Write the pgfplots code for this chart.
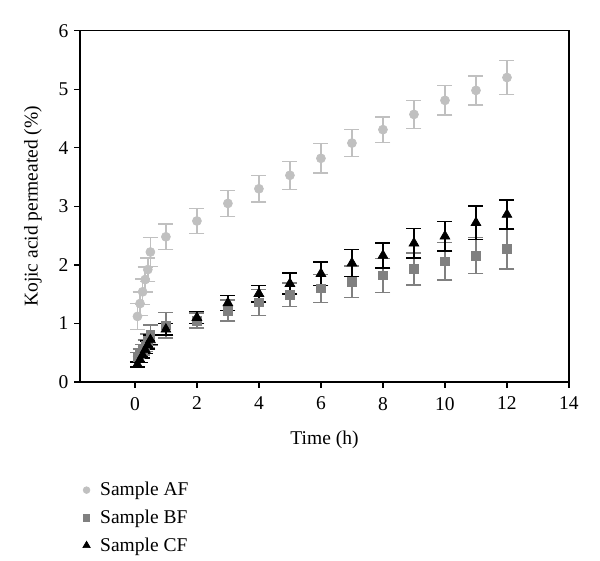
\documentclass[border=0pt]{standalone}
\usepackage{fontspec}
\setmainfont{Liberation Serif}
\usepackage{pgfplots}
\pgfplotsset{compat=1.18}

\definecolor{afgray}{RGB}{192,192,192}
\definecolor{bfgray}{RGB}{128,128,128}

\begin{document}
\begin{tikzpicture}
\begin{axis}[
    scale only axis,
    width=293.4pt,
    height=210.8pt,
    xmin=-1.77, xmax=14,
    ymin=0, ymax=6,
    xtick={0,2,...,14},
    ytick={0,1,...,6},
    tick align=outside,
    tick pos=left,
    major tick length=3.5pt,
    axis line style={line width=0.9pt},
    every tick/.style={black, line width=0.8pt},
    /pgf/number format/assume math mode=true,
    tick label style={font=\fontsize{11.7}{14}\selectfont},
    xticklabel style={yshift=-2pt},
    xlabel={Time (h)},
    ylabel={Kojic acid permeated (\%)},
    label style={font=\fontsize{11.7}{14}\selectfont},
    xlabel style={at={(axis description cs:0.5,-0.165)}, anchor=center},
    ylabel style={at={(axis description cs:-0.096,0.5)}, anchor=center},
    clip=false,
    legend style={
        at={(axis description cs:-0.005,-0.265)}, anchor=north west,
        draw=none, fill=none,
        font=\fontsize{11.7}{14}\selectfont,
        row sep=3pt,
        cells={anchor=west},
        /tikz/every odd column/.append style={column sep=4pt},
    },
    legend image post style={scale=0.75},
    legend cell align=left,
]
% Sample AF
\addplot[only marks, mark=*, mark size=2.7pt, color=afgray,
    error bars/.cd, y dir=both, y explicit,
    error mark options={rotate=90, mark size=4.5pt, line width=0.9pt},
    error bar style={line width=0.9pt}]
coordinates {
    (0.083,1.12) +- (0,0.22)
    (0.167,1.34) +- (0,0.20)
    (0.25,1.54) +- (0,0.22)
    (0.333,1.75) +- (0,0.21)
    (0.417,1.92) +- (0,0.20)
    (0.5,2.22) +- (0,0.25)
    (1,2.48) +- (0,0.22)
    (2,2.75) +- (0,0.21)
    (3,3.05) +- (0,0.22)
    (4,3.30) +- (0,0.23)
    (5,3.53) +- (0,0.24)
    (6,3.82) +- (0,0.25)
    (7,4.08) +- (0,0.23)
    (8,4.31) +- (0,0.22)
    (9,4.57) +- (0,0.24)
    (10,4.81) +- (0,0.25)
    (11,4.98) +- (0,0.25)
    (12,5.20) +- (0,0.29)
};
\addlegendentry{Sample AF}
% Sample BF
\addplot[only marks, mark=square*, mark size=2.6pt, color=bfgray,
    error bars/.cd, y dir=both, y explicit,
    error mark options={rotate=90, mark size=4.5pt, line width=0.9pt},
    error bar style={line width=0.9pt}]
coordinates {
    (0.083,0.42) +- (0,0.08)
    (0.167,0.48) +- (0,0.08)
    (0.25,0.55) +- (0,0.09)
    (0.333,0.62) +- (0,0.10)
    (0.417,0.70) +- (0,0.12)
    (0.5,0.80) +- (0,0.17)
    (1,0.97) +- (0,0.22)
    (2,1.05) +- (0,0.13)
    (3,1.22) +- (0,0.18)
    (4,1.36) +- (0,0.22)
    (5,1.49) +- (0,0.20)
    (6,1.60) +- (0,0.24)
    (7,1.71) +- (0,0.27)
    (8,1.82) +- (0,0.29)
    (9,1.93) +- (0,0.27)
    (10,2.06) +- (0,0.32)
    (11,2.16) +- (0,0.31)
    (12,2.27) +- (0,0.34)
};
\addlegendentry{Sample BF}
% Sample CF
\addplot[only marks, mark=triangle*, mark size=3.4pt, color=black,
    error bars/.cd, y dir=both, y explicit,
    error mark options={rotate=90, mark size=4.5pt, line width=0.9pt},
    error bar style={line width=0.9pt}]
coordinates {
    (0.083,0.30) +- (0,0.04)
    (0.167,0.38) +- (0,0.05)
    (0.25,0.46) +- (0,0.05)
    (0.333,0.55) +- (0,0.06)
    (0.417,0.63) +- (0,0.07)
    (0.5,0.72) +- (0,0.08)
    (1,0.90) +- (0,0.10)
    (2,1.10) +- (0,0.10)
    (3,1.35) +- (0,0.13)
    (4,1.51) +- (0,0.14)
    (5,1.68) +- (0,0.18)
    (6,1.85) +- (0,0.20)
    (7,2.03) +- (0,0.23)
    (8,2.16) +- (0,0.21)
    (9,2.37) +- (0,0.25)
    (10,2.49) +- (0,0.25)
    (11,2.72) +- (0,0.29)
    (12,2.86) +- (0,0.25)
};
\addlegendentry{Sample CF}
\end{axis}
\path (current axis.south west) ++(-48pt,-106.8pt) rectangle ++(360pt,336pt);
\end{tikzpicture}
\end{document}
